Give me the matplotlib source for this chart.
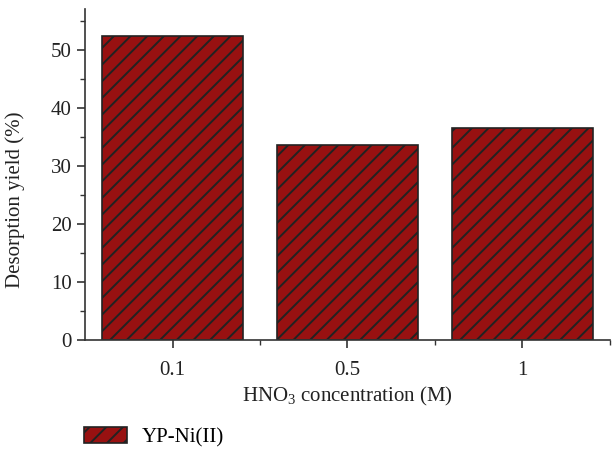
import matplotlib
matplotlib.use("Agg")
import matplotlib.pyplot as plt
from matplotlib.ticker import MultipleLocator, FixedLocator

# desorption yield for each eluent concentration
concentrations = ["0.1", "0.5", "1"]
yield_pct = [52.4, 33.5, 36.5]
series_name = "YP-Ni(II)"

plt.rcParams["font.family"] = ["Liberation Serif", "DejaVu Serif"]
plt.rcParams["mathtext.fontset"] = "custom"
plt.rcParams["mathtext.rm"] = "Liberation Serif"
plt.rcParams["hatch.linewidth"] = 1.4
plt.rcParams["hatch.color"] = "#1e1e1e"

fig = plt.figure(figsize=(6.13, 4.49), dpi=100)
ax = fig.add_axes([0.1387, 0.2428, 0.8563, 0.7372])

pos = range(len(concentrations))
ax.bar(pos, yield_pct, width=0.81, color="#981111", edgecolor="#222222",
       linewidth=1.2, hatch="//", label=series_name)

ax.set_xlim(-0.5, 2.5)
ax.set_ylim(0, 57)
ax.set_xticks(list(pos))
ax.set_xticklabels(concentrations)
ax.xaxis.set_minor_locator(FixedLocator([0.5, 1.5, 2.5]))
ax.yaxis.set_major_locator(MultipleLocator(10))
ax.yaxis.set_minor_locator(MultipleLocator(5))

for side in ["top", "right"]:
    ax.spines[side].set_visible(False)
for side in ["left", "bottom"]:
    ax.spines[side].set_color("#333333")
    ax.spines[side].set_linewidth(1.2)

ax.tick_params(which="major", direction="out", length=6, width=1.2,
               color="#333333", labelsize=15, labelcolor="#222222")
ax.tick_params(which="minor", direction="out", length=3.5, width=1.0,
               color="#333333")
ax.tick_params(axis="x", pad=9)

ax.set_xlabel(r"HNO$_\mathrm{3}$ concentration (M)", fontsize=15,
              color="#222222", labelpad=4)
ax.set_ylabel("Desorption yield (%)", fontsize=15, color="#222222")
ax.yaxis.set_label_coords(-0.114, 0.423)

fig.legend(loc="lower left", bbox_to_anchor=(0.106, -0.038), frameon=False,
           fontsize=15, handlelength=2.1, handleheight=0.75,
           handletextpad=0.7)

fig.savefig("out.png", dpi=100)
